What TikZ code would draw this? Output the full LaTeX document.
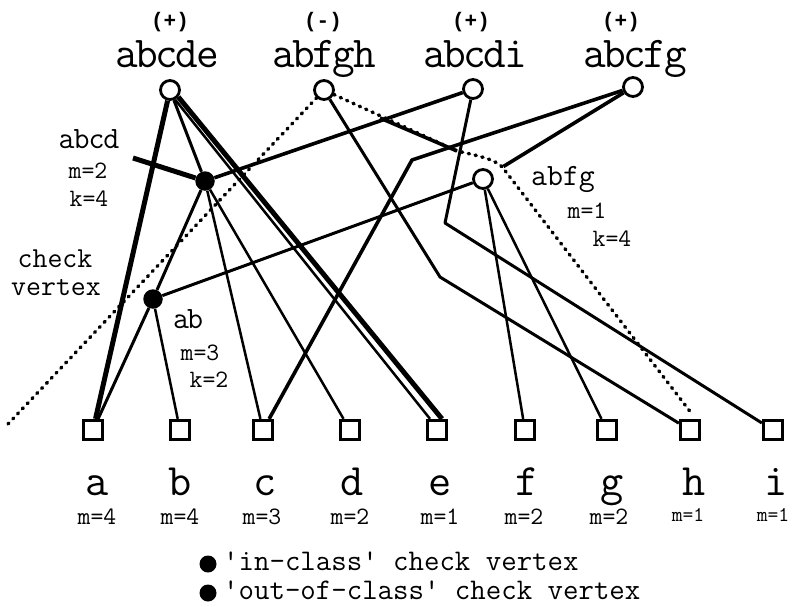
\documentclass[tikz,border=0pt]{standalone}
\usepackage{fontspec}
\newfontfamily\pmfont{Liberation Mono}
\makeatletter
\newcommand\tightlab[2]{\@tfor\tlchar:=#2\do{\tlchar\kern#1}\kern-#1\relax}
\makeatother
\newcommand\fTop{\ttfamily\fontsize{44}{44}\selectfont}
\newcommand\fPM{\pmfont\bfseries\fontsize{21}{21}\selectfont}
\newcommand\fChk{\ttfamily\fontsize{31}{31}\selectfont}
\newcommand\fSm{\ttfamily\fontsize{25}{25}\selectfont}
\newcommand\fSmm{\ttfamily\fontsize{21}{21}\selectfont}
\newcommand\fNote{\ttfamily\fontsize{29}{29}\selectfont}
\newcommand\fBot{\ttfamily\fontsize{45}{45}\selectfont}
\newcommand\fLeg{\ttfamily\fontsize{30}{30}\selectfont}
\tikzset{
  topv/.style={circle, draw, line width=2.8pt, fill=white, minimum size=19pt, inner sep=0pt},
  chkin/.style={circle, fill=black, minimum size=19.5pt, inner sep=0pt},
  var/.style={rectangle, draw, line width=2.8pt, fill=white, minimum size=19.5pt, inner sep=0pt},
  e/.style={line width=3pt, line join=round},
  ethin/.style={line width=2.5pt, line join=round},
  emid/.style={line width=3.6pt, line join=round},
  ethick/.style={line width=5pt, line join=round},
  dots/.style={line width=3.5pt, line cap=round, dash pattern=on 1.2pt off 5.8pt},
  lab/.style={inner sep=0pt, anchor=base},
  bul/.style={circle, fill=black, minimum size=17pt, inner sep=0pt},
}
\begin{document}
\begin{tikzpicture}[x=1pt,y=-1pt]
\useasboundingbox (0,0) rectangle (794,606);
% class vertices
\node[topv] (T1) at (170,90) {};
\node[topv] (T2) at (324,90) {};
\node[topv] (T3) at (473,89) {};
\node[topv] (T4) at (633,87) {};
% check vertices
\node[chkin] (C1) at (205,181) {};
\node[topv] (C2) at (483,179) {};
\node[chkin] (C3) at (153,299) {};
% variable vertices
\foreach \n/\x in {a/93,b/180,c/263,d/350,e/437,f/525,g/607,h/690,i/773}
  \node[var] (V\n) at (\x,430) {};
% helper coordinates
\coordinate (stub) at (133,158);
\coordinate (q1) at (460,144);
\coordinate (q2) at (412,160);
\coordinate (q3) at (445,223);
\coordinate (q4) at (440,277);
\coordinate (d0) at (8,424);
\coordinate (d1) at (380,118);
\coordinate (d2) at (457,151);
\coordinate (d3) at (503,168);
\coordinate (d4) at (692,414);
% edges
\draw[ethick] (T1) -- (Va);
\draw[e] (T1) -- (C1);
\draw[ethin] (T1.-62) -- ([xshift=-7pt]Ve.north);
\draw[ethick] (T1.-40) -- ([xshift=5pt]Ve.north);
\draw[ethick] (C1) -- (stub);
\draw[emid] (C1) -- (T3);
\draw[e] (C1) -- (C3);
\draw[ethin] (C1) -- (Vc);
\draw[ethin] (C1) -- (Vd);
\draw[e] (C3) -- (Va);
\draw[ethin] (C3) -- (Vb);
\draw[e] (C3) -- (C2);
\draw[ethin] (C2) -- (Vf);
\draw[ethin] (C2) -- (Vg);
\draw[emid, shorten >=13pt] (T4) -- (C2);
\draw[emid] (T4) -- (q1) -- (q2) -- (Vc);
\draw[e] (T3) -- (q3) -- (Vi);
\draw[e] (T2) -- (q4) -- (Vh);
\draw[emid] (d1) -- (d2);
\draw[dots] (d0) -- (T2) -- (d2) .. controls (480,156) and (497,160) .. (d3) -- (d4);
% top labels
\node[lab, font=\fPM] (P1) at (170,27) {(+)};
\node[lab, font=\fPM] (P2) at (323,27) {(-)};
\node[lab, font=\fPM] (P3) at (471,27) {(+)};
\node[lab, font=\fPM] (P4) at (621,27) {(+)};
\node[lab, font=\fTop] (L1) at (167,67) {\tightlab{-2.4pt}{abcde}};
\node[lab, font=\fTop] (L2) at (324,67) {\tightlab{-2.4pt}{abfgh}};
\node[lab, font=\fTop] (L3) at (475,67) {\tightlab{-2.4pt}{abcdi}};
\node[lab, font=\fTop] (L4) at (635,67) {\tightlab{-2.4pt}{abcfg}};
% check vertex labels
\node[lab, font=\fChk] (K1) at (89,148) {\tightlab{-1pt}{abcd}};
\node[lab, font=\fSm] (K1m) at (88,178) {m=2};
\node[lab, font=\fSm] (K1k) at (89,206) {k=4};
\node[lab, font=\fChk] (K2) at (563,185) {abfg};
\node[lab, font=\fSm] (K2m) at (587,218) {m=1};
\node[lab, font=\fSm] (K2k) at (612,246) {k=4};
\node[lab, font=\fChk] (K3) at (188,328) {\tightlab{-2pt}{ab}};
\node[lab, font=\fSm] (K3m) at (200,360) {m=3};
\node[lab, font=\fSm] (K3k) at (209,387) {k=2};
\node[lab, font=\fNote] (N1) at (55,267) {check};
\node[lab, font=\fNote] (N2) at (56,295) {vertex};
% bottom labels
\foreach \n/\x in {a/97,b/180,c/265,d/352,e/440,f/527,g/612,h/694,i/776}{
  \node[lab, font=\fBot] (W\n) at (\x,495) {\n};
}
\node[lab, font=\fSm] (Ma) at (97,524) {m=4};
\node[lab, font=\fSm] (Mb) at (180,524) {m=4};
\node[lab, font=\fSm] (Mc) at (262,524) {m=3};
\node[lab, font=\fSm] (Md) at (350,524) {m=2};
\node[lab, font=\fSm] (Me) at (440,524) {m=1};
\node[lab, font=\fSm] (Mf) at (524,524) {m=2};
\node[lab, font=\fSm] (Mg) at (609,524) {m=2};
\node[lab, font=\fSmm] (Mh) at (688,521) {m=1};
\node[lab, font=\fSmm] (Mi) at (773,521) {m=1};
% legend
\node[bul] (B1) at (208,564) {};
\node[bul] (B2) at (208,593) {};
\node[lab, anchor=base west, font=\fLeg] (G1) at (223,570) {'in-class' check vertex};
\node[lab, anchor=base west, font=\fLeg] (G2) at (223,599) {'out-of-class' check vertex};
\end{tikzpicture}
\end{document}
